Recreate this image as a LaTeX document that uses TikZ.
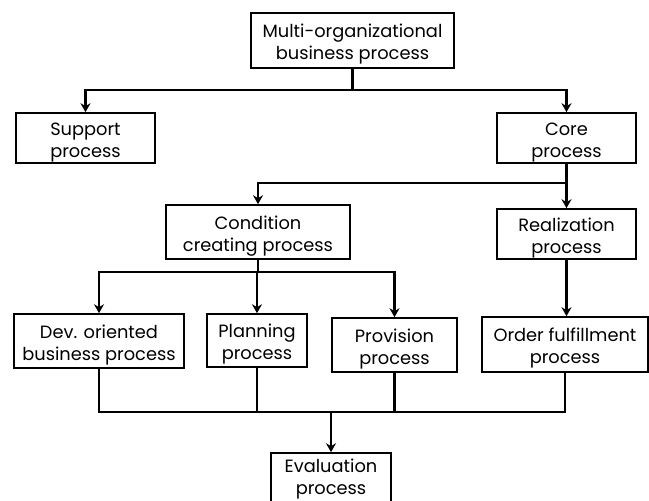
\documentclass[tikz,border=0pt]{standalone}
\usepackage{fontspec}
\setmainfont{Poppins}
\usetikzlibrary{arrows.meta,shadows}
\newcommand{\twol}[3][-4pt]{\raisebox{#1}[\height][\depth]{\begin{tabular}{@{}c@{}}#2\\#3\end{tabular}}}
\begin{document}
\begin{tikzpicture}[x=1pt,y=-1pt,
  box/.style={draw=black,line width=1.6pt,fill=white,inner sep=0pt,
    font=\fontsize{17.8}{22}\selectfont,
    drop shadow={shadow xshift=1.2pt,shadow yshift=-1.2pt,fill=black!60,opacity=1}},
  conn/.style={line width=2.4pt,line join=miter},
  arr/.style={conn,-{Stealth[length=9pt,width=10pt,inset=3pt]}}]
\useasboundingbox (0,0) rectangle (649,501);
\node[box,minimum width=203pt,minimum height=55pt] (top) at (352.5,40.5) {\twol{Multi-organizational}{business process}};
\node[box,minimum width=139pt,minimum height=50pt] (support) at (85.5,138) {\twol{Support}{process}};
\node[box,minimum width=139pt,minimum height=50pt] (core) at (566.5,138) {\twol{Core}{process}};
\node[box,minimum width=184pt,minimum height=54pt] (cond) at (258,232) {\twol{Condition}{creating process}};
\node[box,minimum width=139pt,minimum height=50pt] (real) at (566.5,234) {\twol{Realization}{process}};
\node[box,minimum width=170pt,minimum height=54pt] (dev) at (99,341) {\twol{Dev. oriented}{business process}};
\node[box,minimum width=100pt,minimum height=53pt] (plan) at (257,340.5) {\twol{Planning}{process}};
\node[box,minimum width=125pt,minimum height=54pt] (prov) at (394.5,345) {\twol{Provision}{process}};
\node[box,minimum width=166pt,minimum height=55pt] (order) at (565,344.5) {\twol{Order fulfillment}{process}};
\node[box,minimum width=120pt,minimum height=52pt] (eval) at (331,479) {\twol[0pt]{Evaluation}{process}};
\coordinate (j1) at (352.5,90);
\coordinate (j2) at (566.5,183);
\coordinate (j3) at (258,272);
\coordinate (j4) at (331,412);
\draw[conn] (top.south) -- (j1);
\draw[arr] (j1) -| (support.north);
\draw[arr] (j1) -| (core.north);
\draw[arr] (core.south) -- (real.north);
\draw[arr] (j2) -| (cond.north);
\draw[conn] (cond.south) -- (j3);
\draw[arr] (j3) -| (dev.north);
\draw[arr] (j3) -| (plan.north);
\draw[arr] (j3) -| (prov.north);
\draw[arr] (real.south) -- (real.south |- order.north);
\draw[conn] (dev.south) |- (j4);
\draw[conn] (plan.south) |- (j4);
\draw[conn] (prov.south) |- (j4);
\draw[conn] (order.south) |- (j4);
\draw[arr] (j4) -- (eval.north);
\end{tikzpicture}
\end{document}
